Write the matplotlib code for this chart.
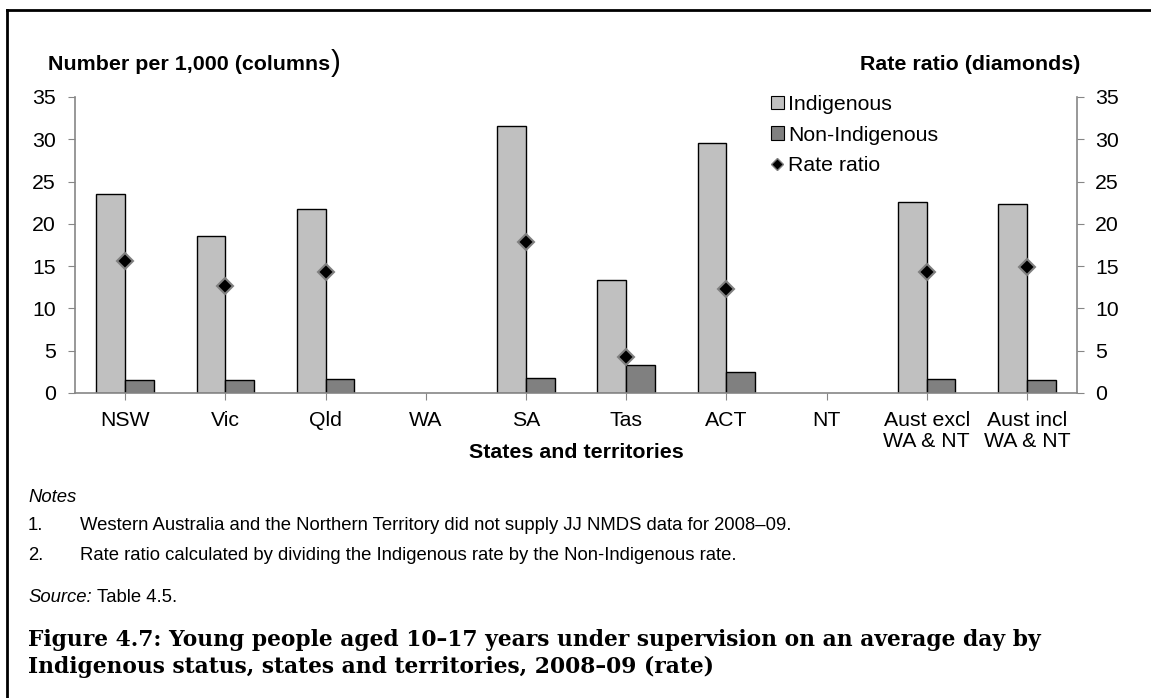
import numpy as np
import matplotlib
matplotlib.use("Agg")
import matplotlib.pyplot as plt
from matplotlib.patches import Patch
from matplotlib.lines import Line2D

W, H = 1151, 698

categories = ["NSW", "Vic", "Qld", "WA", "SA", "Tas", "ACT", "NT",
              "Aust excl\nWA & NT", "Aust incl\nWA & NT"]
indigenous = [23.5, 18.6, 21.8, np.nan, 31.6, 13.4, 29.6, np.nan, 22.6, 22.3]
non_indigenous = [1.5, 1.5, 1.6, np.nan, 1.8, 3.3, 2.5, np.nan, 1.6, 1.5]
rate_ratio = [15.6, 12.7, 14.3, np.nan, 17.8, 4.2, 12.3, np.nan, 14.3, 14.9]
y_ticks = [0, 5, 10, 15, 20, 25, 30, 35]

plt.rcParams["font.family"] = ["Liberation Sans", "DejaVu Sans"]

AXIS_GREY = "#868686"
LABEL_SIZE = 15.3
TITLE_SIZE = 15.4
NOTE_SIZE = 13.3
SERIF = ["DejaVu Serif", "Liberation Serif"]


def fx(px):
    return px / W


def fy(py):
    return 1 - py / H


fig = plt.figure(figsize=(W / 100, H / 100), dpi=100)

ax = fig.add_axes([fx(75), fy(393), fx(1077) - fx(75), fy(97) - fy(393)])
ax2 = ax.twinx()

x = np.arange(len(categories))
bw = 0.286
ax.bar(x - bw / 2, indigenous, bw, color="#c0c0c0", edgecolor="black", linewidth=1, zorder=2)
ax.bar(x + bw / 2, non_indigenous, bw, color="#808080", edgecolor="black", linewidth=1, zorder=2)
ax2.plot(x, rate_ratio, linestyle="none", marker="D", markersize=8.5,
         markerfacecolor="black", markeredgecolor="#808080", markeredgewidth=1.5, zorder=3)

for a in (ax, ax2):
    a.set_xlim(-0.5, len(categories) - 0.5)
    a.set_ylim(0, 35)
    a.set_yticks(y_ticks)
    a.spines["top"].set_visible(False)
    for s in ("left", "right", "bottom"):
        a.spines[s].set_color(AXIS_GREY)
        a.spines[s].set_linewidth(1.2)

ax.spines["right"].set_visible(False)
ax2.spines["left"].set_visible(False)
ax2.spines["bottom"].set_visible(False)

ax.tick_params(axis="y", direction="out", length=5, color=AXIS_GREY, labelsize=LABEL_SIZE, pad=9)
ax2.tick_params(axis="y", direction="out", length=5, color=AXIS_GREY, labelsize=LABEL_SIZE, pad=8)
ax.set_xticks(x)
ax.set_xticklabels(categories, fontsize=LABEL_SIZE, linespacing=1.15, va="top")
ax.tick_params(axis="x", direction="out", length=5, color=AXIS_GREY, pad=8)

# axis titles, the closing bracket is drawn larger as in the original
t_left = fig.text(fx(48), fy(70), "Number per 1,000 (columns", fontsize=TITLE_SIZE,
                  fontweight="bold", ha="left", va="baseline")
ax.annotate(")", xy=(1, 0), xycoords=t_left, xytext=(0.5, -2), textcoords="offset points",
            fontsize=21, ha="left", va="bottom", annotation_clip=False)
fig.text(fx(1080), fy(70), "Rate ratio (diamonds)", fontsize=TITLE_SIZE, fontweight="bold",
         ha="right", va="baseline")
fig.text(fx(576), fy(452), "States and territories", fontsize=TITLE_SIZE, fontweight="bold",
         ha="center", va="center")

handles = [
    Patch(facecolor="#c0c0c0", edgecolor="black", linewidth=0.8),
    Patch(facecolor="#808080", edgecolor="black", linewidth=0.8),
    Line2D([], [], linestyle="none", marker="D", markersize=6,
           markerfacecolor="black", markeredgecolor="#808080", markeredgewidth=1),
]
ax2.legend(handles, ["Indigenous", "Non-Indigenous", "Rate ratio"],
           loc="upper left", bbox_to_anchor=(fx(771), fy(95)),
           bbox_transform=fig.transFigure, frameon=False, fontsize=LABEL_SIZE,
           handlelength=0.6, handleheight=0.6, handletextpad=0.2,
           labelspacing=0.55, borderaxespad=0, borderpad=0)

# notes and caption
fig.text(fx(28), fy(498), "Notes", fontsize=NOTE_SIZE, style="italic", va="center")
fig.text(fx(28), fy(525), "1.", fontsize=NOTE_SIZE, va="center")
fig.text(fx(80), fy(525),
         "Western Australia and the Northern Territory did not supply JJ NMDS data for 2008\u201309.",
         fontsize=NOTE_SIZE, va="center")
fig.text(fx(28), fy(556), "2.", fontsize=NOTE_SIZE, va="center")
fig.text(fx(80), fy(556),
         "Rate ratio calculated by dividing the Indigenous rate by the Non-Indigenous rate.",
         fontsize=NOTE_SIZE, va="center")
src = fig.text(fx(28), fy(597), "Source:", fontsize=NOTE_SIZE, style="italic", va="center")
ax.annotate("Table 4.5.", xy=(1, 0.5), xycoords=src, xytext=(4, 0), textcoords="offset points",
            fontsize=NOTE_SIZE, va="center", annotation_clip=False)

fig.text(fx(28), fy(640),
         "Figure 4.7: Young people aged 10\u201317 years under supervision on an average day by",
         fontsize=15.7, fontweight="bold", family=SERIF, va="center")
fig.text(fx(28), fy(667),
         "Indigenous status, states and territories, 2008\u201309 (rate)",
         fontsize=15.7, fontweight="bold", family=SERIF, va="center")

# frame round the figure
fig.add_artist(Line2D([fx(7), fx(7)], [fy(10), 0], color="black", linewidth=2,
                      transform=fig.transFigure))
fig.add_artist(Line2D([fx(7), 1], [fy(10), fy(10)], color="black", linewidth=2,
                      transform=fig.transFigure))

fig.savefig("out.png", dpi=100)
